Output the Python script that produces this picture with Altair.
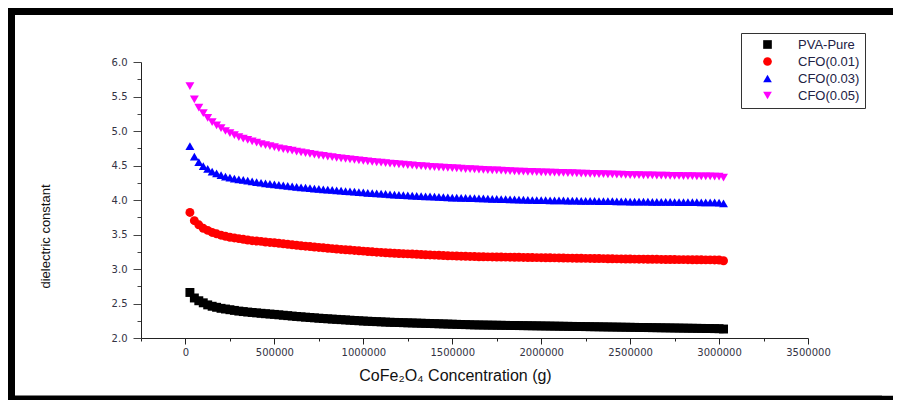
import altair as alt
import pandas as pd

# x positions of the measured points (g)
x_values = [
    25000, 50000, 75000, 100000, 125000, 150000, 175000, 200000, 225000, 250000,
    275000, 300000, 325000, 350000, 375000, 400000, 425000, 450000, 475000, 500000,
    525000, 550000, 575000, 600000, 625000, 650000, 675000, 700000, 725000, 750000,
    775000, 800000, 825000, 850000, 875000, 900000, 925000, 950000, 975000, 1000000,
    1025000, 1050000, 1075000, 1100000, 1125000, 1150000, 1175000, 1200000, 1225000, 1250000,
    1275000, 1300000, 1325000, 1350000, 1375000, 1400000, 1425000, 1450000, 1475000, 1500000,
    1525000, 1550000, 1575000, 1600000, 1625000, 1650000, 1675000, 1700000, 1725000, 1750000,
    1775000, 1800000, 1825000, 1850000, 1875000, 1900000, 1925000, 1950000, 1975000, 2000000,
    2025000, 2050000, 2075000, 2100000, 2125000, 2150000, 2175000, 2200000, 2225000, 2250000,
    2275000, 2300000, 2325000, 2350000, 2375000, 2400000, 2425000, 2450000, 2475000, 2500000,
    2525000, 2550000, 2575000, 2600000, 2625000, 2650000, 2675000, 2700000, 2725000, 2750000,
    2775000, 2800000, 2825000, 2850000, 2875000, 2900000, 2925000, 2950000, 2975000, 3000000,
    3025000,
]

pva_pure = [
    2.66, 2.58, 2.54, 2.51, 2.48, 2.46, 2.445, 2.43, 2.42, 2.41,
    2.40, 2.39, 2.383, 2.376, 2.37, 2.364, 2.358, 2.352, 2.347, 2.342,
    2.336, 2.330, 2.324, 2.318, 2.312, 2.307, 2.302, 2.297, 2.292, 2.287,
    2.282, 2.278, 2.274, 2.270, 2.266, 2.262, 2.258, 2.254, 2.250, 2.246,
    2.243, 2.240, 2.237, 2.234, 2.231, 2.228, 2.226, 2.224, 2.222, 2.220,
    2.218, 2.216, 2.214, 2.212, 2.210, 2.208, 2.206, 2.204, 2.202, 2.200,
    2.198, 2.196, 2.194, 2.192, 2.190, 2.189, 2.188, 2.187, 2.186, 2.185,
    2.184, 2.183, 2.182, 2.181, 2.180, 2.179, 2.178, 2.177, 2.176, 2.175,
    2.174, 2.173, 2.172, 2.171, 2.170, 2.169, 2.168, 2.167, 2.166, 2.165,
    2.164, 2.163, 2.162, 2.161, 2.160, 2.159, 2.158, 2.157, 2.156, 2.155,
    2.154, 2.153, 2.152, 2.151, 2.150, 2.149, 2.148, 2.147, 2.146, 2.145,
    2.144, 2.143, 2.142, 2.141, 2.140, 2.139, 2.138, 2.137, 2.136, 2.135,
    2.13,
]

cfo_001 = [
    3.82, 3.70, 3.64, 3.59, 3.56, 3.53, 3.51, 3.49, 3.475, 3.46,
    3.45, 3.44, 3.43, 3.42, 3.41, 3.405, 3.40, 3.39, 3.385, 3.38,
    3.372, 3.365, 3.358, 3.351, 3.344, 3.337, 3.331, 3.325, 3.319, 3.313,
    3.307, 3.301, 3.295, 3.289, 3.284, 3.279, 3.274, 3.269, 3.264, 3.259,
    3.254, 3.249, 3.244, 3.240, 3.236, 3.232, 3.228, 3.225, 3.222, 3.219,
    3.216, 3.213, 3.210, 3.207, 3.204, 3.201, 3.198, 3.195, 3.192, 3.190,
    3.188, 3.186, 3.184, 3.182, 3.180, 3.178, 3.177, 3.176, 3.175, 3.174,
    3.173, 3.172, 3.171, 3.170, 3.169, 3.168, 3.167, 3.166, 3.165, 3.164,
    3.163, 3.162, 3.161, 3.160, 3.159, 3.158, 3.157, 3.156, 3.155, 3.154,
    3.153, 3.152, 3.151, 3.150, 3.149, 3.148, 3.147, 3.146, 3.145, 3.144,
    3.143, 3.142, 3.142, 3.141, 3.140, 3.140, 3.139, 3.138, 3.138, 3.137,
    3.136, 3.136, 3.135, 3.134, 3.134, 3.133, 3.132, 3.132, 3.131, 3.130,
    3.12,
]

cfo_003 = [
    4.78, 4.63, 4.55, 4.49, 4.45, 4.41, 4.385, 4.36, 4.34, 4.325,
    4.31, 4.30, 4.29, 4.28, 4.27, 4.26, 4.25, 4.24, 4.233, 4.225,
    4.218, 4.211, 4.204, 4.197, 4.190, 4.184, 4.178, 4.172, 4.166, 4.160,
    4.155, 4.150, 4.145, 4.140, 4.135, 4.130, 4.125, 4.120, 4.115, 4.110,
    4.105, 4.100, 4.095, 4.091, 4.087, 4.083, 4.079, 4.075, 4.071, 4.067,
    4.063, 4.060, 4.057, 4.054, 4.051, 4.048, 4.045, 4.042, 4.039, 4.036,
    4.034, 4.032, 4.030, 4.028, 4.026, 4.024, 4.022, 4.020, 4.018, 4.016,
    4.014, 4.012, 4.010, 4.008, 4.006, 4.004, 4.002, 4.000, 3.999, 3.998,
    3.997, 3.996, 3.995, 3.994, 3.993, 3.992, 3.991, 3.990, 3.989, 3.988,
    3.987, 3.986, 3.985, 3.984, 3.983, 3.982, 3.981, 3.980, 3.979, 3.978,
    3.977, 3.976, 3.976, 3.975, 3.974, 3.974, 3.973, 3.972, 3.972, 3.971,
    3.970, 3.970, 3.969, 3.968, 3.968, 3.967, 3.966, 3.966, 3.965, 3.962,
    3.95,
]

cfo_005 = [
    5.65, 5.46, 5.34, 5.26, 5.19, 5.13, 5.08, 5.04, 5.00, 4.97,
    4.94, 4.91, 4.89, 4.87, 4.85, 4.83, 4.81, 4.795, 4.78, 4.765,
    4.75, 4.738, 4.726, 4.714, 4.702, 4.691, 4.680, 4.669, 4.658, 4.648,
    4.638, 4.629, 4.620, 4.611, 4.603, 4.595, 4.587, 4.580, 4.573, 4.566,
    4.559, 4.552, 4.546, 4.540, 4.534, 4.528, 4.522, 4.516, 4.511, 4.506,
    4.501, 4.496, 4.491, 4.486, 4.481, 4.477, 4.473, 4.469, 4.465, 4.461,
    4.457, 4.453, 4.449, 4.446, 4.443, 4.440, 4.437, 4.434, 4.431, 4.428,
    4.425, 4.422, 4.419, 4.416, 4.413, 4.410, 4.408, 4.406, 4.404, 4.402,
    4.400, 4.398, 4.396, 4.394, 4.392, 4.390, 4.388, 4.386, 4.384, 4.382,
    4.380, 4.378, 4.376, 4.374, 4.372, 4.370, 4.368, 4.366, 4.364, 4.362,
    4.361, 4.360, 4.358, 4.357, 4.356, 4.355, 4.353, 4.352, 4.351, 4.350,
    4.349, 4.347, 4.346, 4.345, 4.344, 4.343, 4.342, 4.341, 4.340, 4.338,
    4.325,
]

series_names = ["PVA-Pure", "CFO(0.01)", "CFO(0.03)", "CFO(0.05)"]
series_values = [pva_pure, cfo_001, cfo_003, cfo_005]
series_colors = ["#000000", "#ff0000", "#0000ff", "#ff00ff"]
series_shapes = ["square", "circle", "triangle-up", "triangle-down"]

y_ticks = [2.0, 2.25, 2.5, 2.75, 3.0, 3.25, 3.5, 3.75, 4.0, 4.25, 4.5, 4.75,
           5.0, 5.25, 5.5, 5.75, 6.0]
x_ticks = [-250000, 0, 250000, 500000, 750000, 1000000, 1250000, 1500000,
           1750000, 2000000, 2250000, 2500000, 2750000, 3000000, 3250000, 3500000]

rows = []
for name, vals in zip(series_names, series_values):
    assert len(vals) == len(x_values), name
    for xv, yv in zip(x_values, vals):
        rows.append({"series": name, "x": xv, "y": yv})
df = pd.DataFrame(rows)

legend = alt.Legend(title=None, orient="none", legendX=600, legendY=-29)

points = alt.Chart(df).mark_point(filled=True, size=80, opacity=1).encode(
    x=alt.X(
        "x:Q",
        scale=alt.Scale(domain=[-250000, 3500000], nice=False, zero=False),
        axis=alt.Axis(
            values=x_ticks,
            title="CoFe₂O₄ Concentration (g)",
            labelExpr="datum.value % 500000 === 0 && datum.value >= 0 ? format(datum.value, 'd') : ''",
            tickSize={"condition": {"test": "datum.value % 500000 === 0", "value": 6}, "value": 3},
            labelFont="DejaVu Sans",
            labelFontSize=10,
            labelColor="#333344",
            labelPadding=3,
            titleFont="Liberation Sans",
            titleFontSize=16,
            titleFontWeight="normal",
            titleColor="#111111",
            titleX=314,
            titleY=37,
            titleAlign="center",
            titleBaseline="middle",
            grid=False,
            domainColor="#222222",
            tickColor="#222222",
            labelFlush=False,
            labelOverlap=False,
        ),
    ),
    y=alt.Y(
        "y:Q",
        scale=alt.Scale(domain=[2, 6], nice=False, zero=False),
        axis=alt.Axis(
            values=y_ticks,
            title="dielectric constant",
            labelExpr="datum.value % 0.5 === 0 ? format(datum.value, '.1f') : ''",
            tickSize={"condition": {"test": "datum.value % 0.5 === 0", "value": 8}, "value": 4},
            labelFont="DejaVu Sans",
            labelFontSize=10,
            labelColor="#333344",
            labelPadding=6,
            titleFont="Liberation Sans",
            titleFontSize=13,
            titleFontWeight="normal",
            titleColor="#111111",
            titleAngle=270,
            titleX=-96,
            titleY=174,
            titleAlign="center",
            titleBaseline="middle",
            grid=False,
            domainColor="#222222",
            tickColor="#444444",
            labelFlush=False,
            labelOverlap=False,
        ),
    ),
    color=alt.Color("series:N", sort=series_names,
                    scale=alt.Scale(domain=series_names, range=series_colors),
                    legend=legend),
    shape=alt.Shape("series:N", sort=series_names,
                    scale=alt.Scale(domain=series_names, range=series_shapes),
                    legend=legend),
)

frame_src = pd.DataFrame({"f": [0]})
frame_top = alt.Chart(frame_src).mark_rule(color="#000000", strokeWidth=7).encode(
    x=alt.value(-133), x2=alt.value(752), y=alt.value(-50.5), y2=alt.value(-50.5),
)
frame_left = alt.Chart(frame_src).mark_rule(color="#000000", strokeWidth=7).encode(
    x=alt.value(-129.5), x2=alt.value(-129.5), y=alt.value(-54), y2=alt.value(340),
)
frame_bottom = alt.Chart(frame_src).mark_rule(color="#000000", strokeWidth=7).encode(
    x=alt.value(-133), x2=alt.value(752), y=alt.value(337), y2=alt.value(337),
)
# white strip at the right edge so no right border shows (the reference has none)
edge_cover = alt.Chart(frame_src).mark_rule(color="#ffffff", strokeWidth=14).encode(
    x=alt.value(748), x2=alt.value(748), y=alt.value(-47), y2=alt.value(333.5),
)

chart = alt.layer(frame_top, frame_left, frame_bottom, points, edge_cover).properties(
    width=667,
    height=276,
    autosize=alt.AutoSizeParams(type="none"),
    padding={"left": 133, "top": 54, "right": 85, "bottom": 62},
    background="white",
).configure_view(stroke=None).configure_legend(
    strokeColor="#333333",
    fillColor="white",
    padding=5,
    symbolOffset=15,
    labelOffset=24,
    rowPadding=3,
    symbolSize=75,
    labelFont="Liberation Sans",
    labelFontSize=13,
    labelColor="#222244",
    symbolStrokeWidth=0,
)

chart.save("out.html", embed_options={"renderer": "svg", "actions": False})
